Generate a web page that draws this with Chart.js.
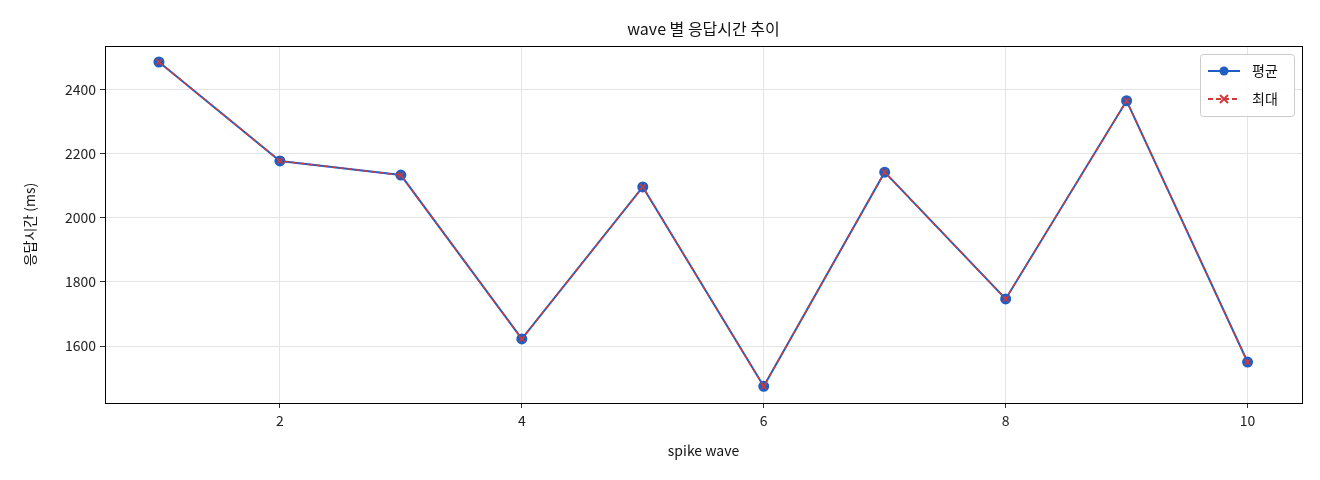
<!DOCTYPE html>
<html><head><meta charset="utf-8">
<script src="https://cdn.jsdelivr.net/npm/chart.js@4"></script>
<style>body{margin:0;background:#fff}#w{width:1320px;height:480px}</style>
</head><body><div id="w"><canvas id="c"></canvas></div>
<script>
const waves = [1,2,3,4,5,6,7,8,9,10];
const avgMs = [2487,2178,2134,1622,2097,1474,2143,1747,2366,1550];
const maxMs = [2487,2178,2134,1622,2097,1474,2143,1747,2366,1550];
const xTicks = [2,4,6,8,10];
const yTicks = [1600,1800,2000,2200,2400];
const F = '"Noto Sans CJK KR","Noto Sans",sans-serif';
const blue='#1f5fc4', red='#d03a3a';
const deco = {id:'deco', afterDraw(ch){
  const c=ch.ctx, a=ch.chartArea;
  c.save();
  c.fillStyle='#111'; c.font='16px '+F; c.textAlign='center'; c.textBaseline='middle';
  c.fillText('wave 별 응답시간 추이',(a.left+a.right)/2,29);
  c.font='14px '+F;
  c.fillText('spike wave',(a.left+a.right)/2,451);
  c.save(); c.translate(30,(a.top+a.bottom)/2); c.rotate(-Math.PI/2); c.fillText('응답시간 (ms)',0,0); c.restore();
  c.strokeStyle='#000'; c.lineWidth=1; c.strokeRect(a.left+.5,a.top+.5,a.right-a.left,a.bottom-a.top);
  const lx=1200, ly=54, lw=94, lh=62;
  c.fillStyle='rgba(255,255,255,0.9)'; c.strokeStyle='#ccc';
  c.beginPath(); c.roundRect(lx+.5,ly+.5,lw,lh,3); c.fill(); c.stroke();
  c.font='14px '+F; c.textAlign='left'; c.fillStyle='#111';
  let y=ly+17;
  c.strokeStyle=blue; c.lineWidth=2; c.setLineDash([]);
  c.beginPath(); c.moveTo(lx+8,y); c.lineTo(lx+40,y); c.stroke();
  c.fillStyle=blue; c.beginPath(); c.arc(lx+24,y,4.5,0,7); c.fill();
  c.fillStyle='#111'; c.fillText('평균',lx+52,y);
  y+=28;
  c.strokeStyle=red; c.setLineDash([5,3]);
  c.beginPath(); c.moveTo(lx+8,y); c.lineTo(lx+40,y); c.stroke();
  c.setLineDash([]); c.beginPath(); c.moveTo(lx+20,y-4); c.lineTo(lx+28,y+4); c.moveTo(lx+28,y-4); c.lineTo(lx+20,y+4); c.stroke();
  c.fillStyle='#111'; c.fillText('최대',lx+52,y);
  c.restore();
}};
new Chart(document.getElementById('c'),{
  type:'line',
  data:{datasets:[
    {label:'평균',order:2,data:waves.map((w,i)=>({x:w,y:avgMs[i]})),borderColor:blue,backgroundColor:blue,borderWidth:2,pointRadius:4.5,pointStyle:'circle'},
    {label:'최대',order:1,data:waves.map((w,i)=>({x:w,y:maxMs[i]})),borderColor:red,backgroundColor:red,borderWidth:1.5,borderDash:[5,3],pointRadius:4,pointStyle:'crossRot',pointBorderWidth:1.5}
  ]},
  options:{responsive:true,maintainAspectRatio:false,animation:false,
    layout:{padding:{top:46,right:18,left:0,bottom:0}},
    plugins:{legend:{display:false},title:{display:false},tooltip:{enabled:false}},
    scales:{
      x:{type:'linear',min:0.554,max:10.45,
        afterBuildTicks:s=>{s.ticks=xTicks.map(v=>({value:v}));},
        afterFit:s=>{s.height=77;},
        grid:{color:'#e4e4e4',tickLength:5,tickColor:'#333'},border:{display:false},
        ticks:{color:'#222',font:{family:F,size:14},padding:4,callback:v=>String(v)}},
      y:{min:1422,max:2537,
        afterBuildTicks:s=>{s.ticks=yTicks.map(v=>({value:v}));},
        afterFit:s=>{s.width=105;},
        grid:{color:'#e4e4e4',tickLength:5,tickColor:'#333'},border:{display:false},
        ticks:{color:'#222',font:{family:F,size:14},padding:4,callback:v=>String(v)}}
    }},
  plugins:[deco]
});
</script></body></html>
